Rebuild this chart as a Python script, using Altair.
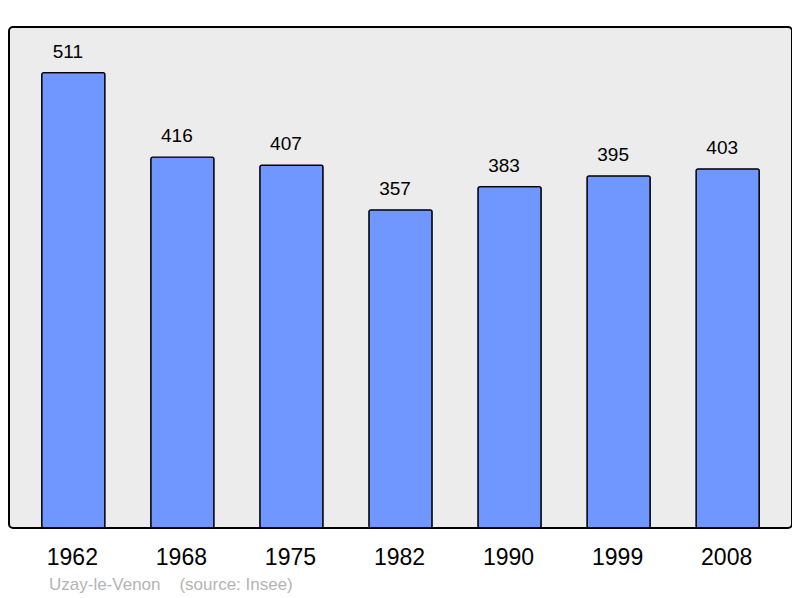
import altair as alt
import pandas as pd

years = ["1962", "1968", "1975", "1982", "1990", "1999", "2008"]
population = [511, 416, 407, 357, 383, 395, 403]

df = pd.DataFrame({"year": years, "pop": population})

FONT = "Liberation Sans"

x = alt.X(
    "year:N",
    sort=None,
    scale=alt.Scale(paddingInner=0.42, paddingOuter=0.30),
    axis=alt.Axis(
        title=None, ticks=False, domain=False, grid=False,
        labelFontSize=23, labelFont=FONT, labelColor="black",
        labelAngle=0, labelBaseline="alphabetic", labelPadding=36,
        labelOffset=-1,
    ),
)
y = alt.Y(
    "pop:Q",
    scale=alt.Scale(domain=[0, 562.1], nice=False, zero=True),
    axis=None,
)

bars = alt.Chart(df).mark_bar(
    fill="#7096ff", stroke="black", strokeWidth=1.3, cornerRadius=2
).encode(x=x, y=y)

labels = alt.Chart(df).mark_text(
    font=FONT, fontSize=19, color="black", baseline="alphabetic",
    dy=-15, dx=-5.5,
).encode(x=x, y=y, text="pop:Q")

footer = "Uzay-le-Venon\u00a0\u00a0\u00a0\u00a0(source: Insee)"

chart = (
    alt.layer(bars, labels)
    .properties(
        width=783,
        height=501,
        autosize=alt.AutoSizeParams(type="none"),
        padding={"left": 1, "top": 19, "right": 0, "bottom": 70},
        title=alt.TitleParams(
            text=footer,
            orient="bottom", anchor="start", dx=40, offset=21,
            font=FONT, fontSize=17, fontWeight="normal", color="#b4b4b4",
            baseline="alphabetic",
        ),
    )
    .configure(background="white")
    .configure_view(
        fill="#ececec", stroke="black", strokeWidth=2, cornerRadius=4
    )
)

chart.save("out.html", embed_options={"renderer": "svg", "actions": False})
